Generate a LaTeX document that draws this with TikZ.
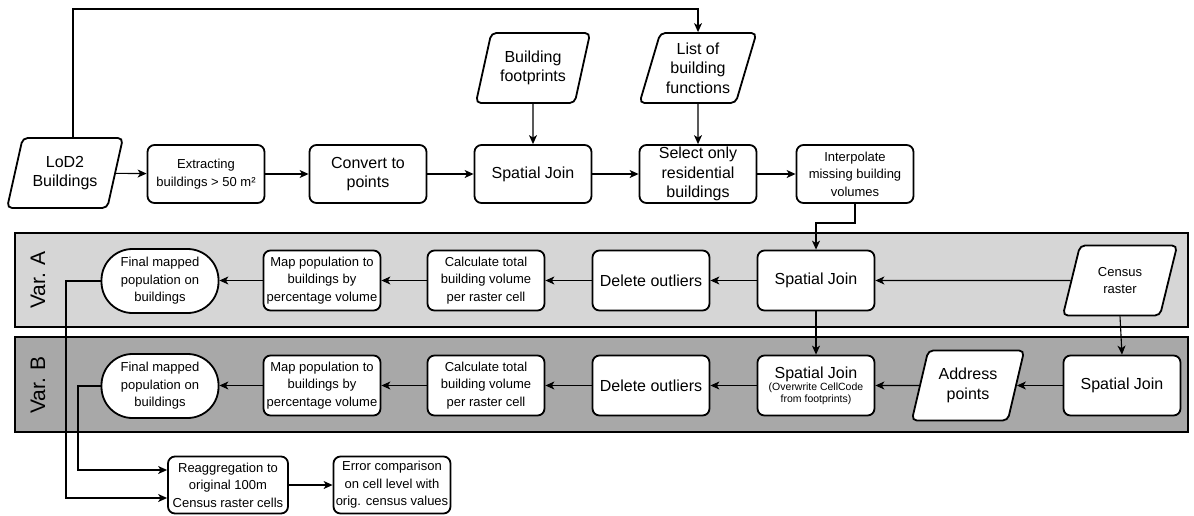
\documentclass[tikz,border=0pt]{standalone}
\usepackage{fontspec}
\setmainfont{Liberation Sans}
\usetikzlibrary{shapes.geometric,arrows.meta}
\definecolor{bandA}{HTML}{D6D6D6}
\definecolor{bandB}{HTML}{A8A8A8}
\begin{document}
\begin{tikzpicture}[x=1pt,y=-1pt,
 box/.style={draw,line width=1.8pt,rounded corners=7pt,minimum width=117pt,minimum height=58pt,align=center,fill=white,inner sep=1pt},
 para/.style={draw,line width=1.8pt,trapezium,trapezium left angle=71,trapezium right angle=109,trapezium stretches=true,rounded corners=5pt,minimum width=104pt,minimum height=70pt,align=center,fill=white,inner sep=1pt},
 pill/.style={draw,line width=1.8pt,rounded corners=31pt,minimum width=117pt,minimum height=64pt,align=center,fill=white,inner sep=1pt},
 band/.style={draw,line width=1.8pt},
 big/.style={font=\fontsize{16}{19.5}\selectfont},
 small/.style={font=\fontsize{13}{17.5}\selectfont},
 lab/.style={rotate=90,font=\fontsize{21}{21}\selectfont},
 arr/.style={-{Stealth[length=9pt,width=8pt,inset=2.5pt]},line width=1.1pt},
 ln/.style={line width=1.1pt}]
\useasboundingbox (0,0) rectangle (1194,515);
% bands
\draw[band,fill=bandA] (15,233) rectangle (1188,327);
\draw[band,fill=bandB] (15,337) rectangle (1188,432);
\node[lab] (varA) at (38,280) {Var. A};
\node[lab] (varB) at (38,385) {Var. B};
% top row
\node[para,big,minimum width=116pt] (lod) at (65,173) {LoD2\\Buildings};
\node[box,small] (extr) at (206,174) {Extracting\\buildings > 50 m²};
\node[box,big] (conv) at (368,174) {Convert to\\points};
\node[box,big] (sj1) at (533,174) {Spatial Join};
\node[box,big] (sel) at (698,174) {Select only\\residential\\buildings};
\node[box,small] (interp) at (855,174) {Interpolate\\missing building\\volumes};
\node[para,big,minimum width=115pt] (foot) at (533,68) {Building\\footprints};
\node[para,big,minimum width=117pt] (list) at (698,68) {List of\\building\\functions};
% row A
\node[pill,small] (fina) at (160,281) {Final mapped\\population on\\buildings};
\node[box,small,minimum height=60pt] (mapa) at (322,280.5) {Map population to\\buildings by\\percentage volume};
\node[box,small,minimum height=60pt] (calca) at (486,280.5) {Calculate total\\building volume\\per raster cell};
\node[box,big,minimum height=60pt] (dela) at (651,280.5) {Delete outliers};
\node[box,big,minimum height=60pt] (sja) at (816,280.5) {Spatial Join};
\node[para,small,minimum width=115pt] (cens) at (1120,280.5) {Census\\raster};
% row B
\node[pill,small] (finb) at (160,386) {Final mapped\\population on\\buildings};
\node[box,small,minimum height=60pt] (mapb) at (322,385.5) {Map population to\\buildings by\\percentage volume};
\node[box,small,minimum height=60pt] (calcb) at (486,385.5) {Calculate total\\building volume\\per raster cell};
\node[box,big,minimum height=60pt] (delb) at (651,385.5) {Delete outliers};
\node[box,minimum height=60pt] (sjb) at (816,385.5) {{\fontsize{16}{19}\selectfont Spatial Join}\\{\fontsize{10.5}{14}\selectfont (Overwrite CellCode}\\{\fontsize{10.5}{14}\selectfont from footprints)}};
\node[para,big,minimum width=113pt] (addr) at (968,385.5) {Address\\points};
\node[box,big,minimum height=60pt] (sjr) at (1122,385.5) {Spatial Join};
% bottom
\node[box,small,minimum width=120pt,minimum height=57pt] (reag) at (228,485) {Reaggregation to\\original 100m\\Census raster cells};
\node[box,small,minimum width=117pt,minimum height=57pt] (err) at (392,485) {Error comparison\\on cell level with\\orig. census values};
% helper coordinates
\coordinate (ytop) at (0,9);
\coordinate (ymid) at (0,223);
\coordinate (xa) at (66,0);
\coordinate (xb) at (78,0);
\coordinate (ya) at (0,498);
\coordinate (yb) at (0,470);
% connectors top
\draw[arr] (lod) -- (extr);
\draw[arr] (extr) -- (conv);
\draw[arr] (conv) -- (sj1);
\draw[arr] (sj1) -- (sel);
\draw[arr] (sel) -- (interp);
\draw[arr] (foot) -- (sj1);
\draw[arr] (list) -- (sel);
\draw[arr] (lod.top side) -- (lod.top side |- ytop) -- (list.north |- ytop) -- (list.north);
\draw[arr] (interp.south) -- (interp.south |- ymid) -- (sja.north |- ymid) -- (sja.north);
% row A
\draw[arr] (cens) -- (sja);
\draw[arr] (sja) -- (dela);
\draw[arr] (dela) -- (calca);
\draw[arr] (calca) -- (mapa);
\draw[arr] (mapa.west) -- (mapa.west -| fina.east);
\draw[arr] (sja) -- (sjb);
\draw[arr] (cens.south) -- (sjr.north);
% row B
\draw[arr] (sjr) -- (addr);
\draw[arr] (addr) -- (sjb);
\draw[arr] (sjb) -- (delb);
\draw[arr] (delb) -- (calcb);
\draw[arr] (calcb) -- (mapb);
\draw[arr] (mapb.west) -- (mapb.west -| finb.east);
% to bottom
\draw[arr] (fina.west) -- (fina.west -| xa) -- (xa |- ya) -- (reag.west |- ya);
\draw[arr] (finb.west) -- (finb.west -| xb) -- (xb |- yb) -- (reag.west |- yb);
\draw[arr] (reag) -- (err);
\end{tikzpicture}
\end{document}
